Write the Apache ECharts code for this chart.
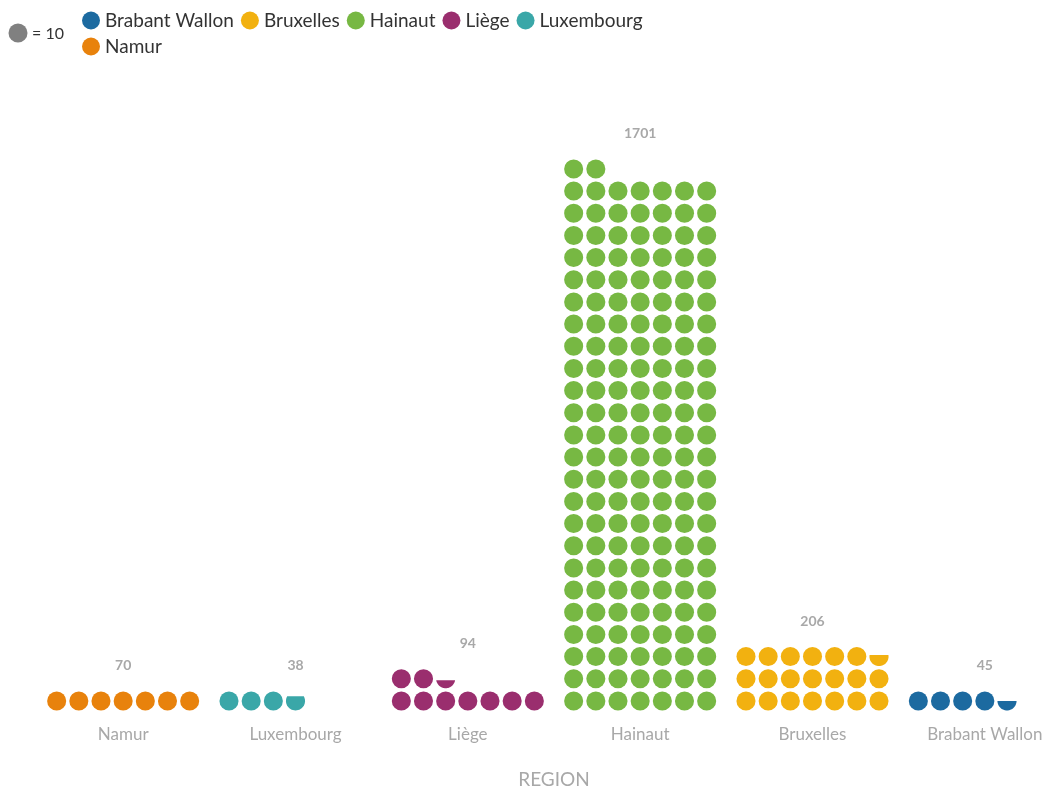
<!DOCTYPE html>
<html><head><meta charset="utf-8">
<script src="https://cdn.jsdelivr.net/npm/echarts@6/dist/echarts.min.js"></script>
<style>html,body{margin:0;padding:0;background:#fff}#c{width:1045px;height:789px}</style>
</head><body><div id="c"></div>
<script>
const categories = ['Namur', 'Luxembourg', 'Liège', 'Hainaut', 'Bruxelles', 'Brabant Wallon'];
const values = [70, 38, 94, 1701, 206, 45];
const legendOrder = ['Brabant Wallon', 'Bruxelles', 'Hainaut', 'Liège', 'Luxembourg', 'Namur'];
const colorList = ['#e8820c', '#3aa7a8', '#9a2e6e', '#77b843', '#f2b110', '#1c6aa0'];
const unitValue = 10;
const perRow = 7;
const FONT = 'Lato';

function segHeightForArea(frac) {
  let lo = 0, hi = 1;
  for (let i = 0; i < 40; i++) {
    const m = (lo + hi) / 2;
    const h = 2 * m;
    const a = Math.acos(1 - h) - (1 - h) * Math.sqrt(Math.max(0, 2 * h - h * h));
    if (a / Math.PI < frac) lo = m; else hi = m;
  }
  return (lo + hi) / 2;
}

function renderItem(params, api) {
  const idx = api.value(0), val = api.value(1);
  const n = val / unitValue;
  const full = Math.floor(n + 1e-9);
  const frac = n - full;
  const hasPartial = frac >= 0.15;
  const total = full + (hasPartial ? 1 : 0);
  const step = api.size([0, 1])[1];
  const r = step * 0.43;
  const color = api.visual('color');
  const children = [];
  for (let k = 0; k < total; k++) {
    const row = Math.floor(k / perRow), col = k % perRow;
    const p = api.coord([idx, row + 0.5]);
    const x = p[0] + (col - (perRow - 1) / 2) * step;
    if (k < full) {
      children.push({ type: 'circle', shape: { cx: x, cy: p[1], r: r }, style: { fill: color } });
    } else {
      const h = segHeightForArea(frac) * 2 * r;
      const d = r - h;
      const t0 = Math.asin(Math.max(-1, Math.min(1, d / r)));
      const pts = [];
      const N = 30;
      for (let s = 0; s <= N; s++) {
        const t = t0 + (Math.PI - 2 * t0) * s / N;
        pts.push([x + r * Math.cos(t), p[1] + r * Math.sin(t)]);
      }
      children.push({ type: 'polygon', shape: { points: pts }, style: { fill: color } });
    }
  }
  const topRow = Math.floor((total - 1) / perRow);
  const pt = api.coord([idx, topRow + 0.5]);
  children.push({
    type: 'text',
    style: { text: String(val), x: pt[0], y: pt[1] - 35, align: 'center', verticalAlign: 'middle',
      fill: '#a8a8a8', font: 'bold 14px ' + FONT }
  });
  return { type: 'group', children: children };
}

const series = categories.map((c, i) => ({
  name: c,
  type: 'custom',
  renderItem: renderItem,
  itemStyle: { color: colorList[i] },
  data: [[i, values[i]]],
  clip: false,
  silent: true
}));

const chart = echarts.init(document.getElementById('c'));
chart.setOption({
  animation: false,
  backgroundColor: '#fff',
  legend: {
    data: legendOrder,
    left: 77, top: 6, width: 610,
    icon: 'circle', itemWidth: 18, itemHeight: 18, itemGap: 7,
    textStyle: { fontSize: 19, color: '#333', fontFamily: FONT },
    selectedMode: false
  },
  graphic: [
    { type: 'circle', shape: { cx: 18, cy: 33, r: 9.5 }, style: { fill: '#808080' } },
    { type: 'text', style: { text: '= 10', x: 32, y: 34, verticalAlign: 'middle', fill: '#333', font: '16px ' + FONT } }
  ],
  grid: { left: 37, right: -26, top: 47, bottom: 77, outerBoundsMode: 'none', containLabel: false },
  xAxis: {
    type: 'category', data: categories,
    axisLine: { show: false }, axisTick: { show: false }, splitLine: { show: false },
    axisLabel: { color: '#a8a8a8', fontSize: 17, margin: 14, fontFamily: FONT },
    name: 'REGION', nameLocation: 'middle', nameGap: 58,
    nameTextStyle: { color: '#a8a8a8', fontSize: 19, fontFamily: FONT }
  },
  yAxis: { type: 'value', min: 0, max: 30, show: false },
  series: series
});
</script></body></html>
